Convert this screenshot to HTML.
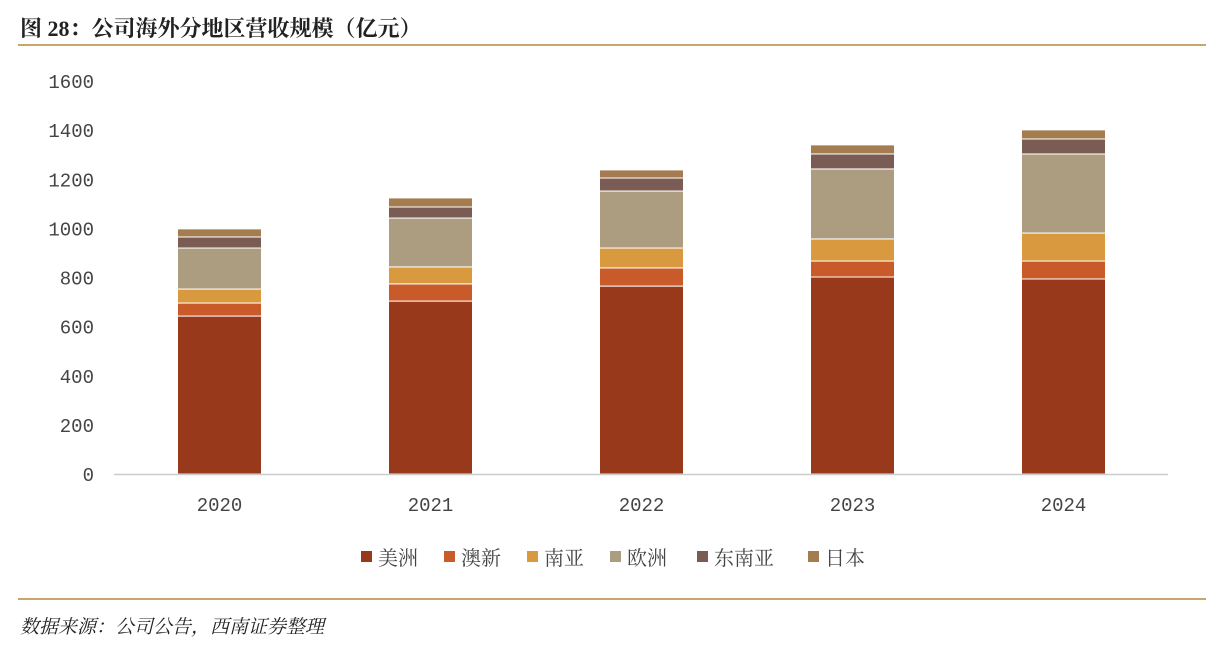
<!DOCTYPE html>
<html><head><meta charset="utf-8"><style>
body{margin:0;background:#fff;width:1225px;height:663px;overflow:hidden;font-family:"Liberation Sans","Noto Sans CJK SC",sans-serif;}
.title{position:absolute;left:20px;top:12px;font-size:22px;font-weight:bold;color:#222;font-family:"Liberation Serif","Noto Serif CJK SC",serif;}
.rule{position:absolute;left:18px;width:1188px;height:2px;background:#c9a46b;}
.src{position:absolute;left:20px;top:612px;font-size:19px;font-style:italic;color:#222;font-family:"Liberation Serif","Noto Serif CJK SC",serif;}
</style></head><body>
<div class="title">图 28：公司海外分地区营收规模（亿元）</div>
<div class="rule" style="top:44px"></div>
<div class="rule" style="top:598px"></div>
<div class="src">数据来源：公司公告，西南证券整理</div>
<svg id="c" width="1225" height="663" style="position:absolute;left:0;top:0"></svg>
<script>
const years=["2020","2021","2022","2023","2024"];
const names=["美洲","澳新","南亚","欧洲","东南亚","日本"];
const america=[643,704,765,802,794];
const anz=[53,70,74,65,73];
const southAsia=[57,69,81,90,114];
const europe=[167,199,232,285,322];
const seAsia=[45,45,53,61,61];
const japan=[33,37,33,37,37];
const ticks=[0,200,400,600,800,1000,1200,1400,1600];
const series=[america,anz,southAsia,europe,seAsia,japan];
const colors=["#98391c","#c95a2a","#d9993f","#ad9d80","#7a5c54","#a47c50"];
const svg=document.getElementById('c');const NS="http://www.w3.org/2000/svg";
const y0=474,yTop=81,ymax=1600;
const y=v=>y0-(v/ymax)*(y0-yTop);
const x=i=>219.5+i*211;
function mk(t,a){const e=document.createElementNS(NS,t);for(const k in a)e.setAttribute(k,a[k]);svg.appendChild(e);return e;}
ticks.forEach(t=>{const e=mk('text',{x:94,y:y(t)+7,'text-anchor':'end','font-size':19,fill:'#444','font-family':'Liberation Mono, monospace'});e.textContent=t;

});
years.forEach((yr,i)=>{let acc=0;series.forEach((s,j)=>{const v=s[i];const r=mk('rect',{x:x(i)-42,y:y(acc+v),width:84,height:y(acc)-y(acc+v),fill:colors[j],stroke:'#fff','stroke-width':1});

acc+=v;});
const t=mk('text',{x:x(i),y:511,'text-anchor':'middle','font-size':19,fill:'#444','font-family':'Liberation Mono, monospace'});t.textContent=yr;

});
const ax=mk('line',{x1:114,x2:1168,y1:y0+0.5,y2:y0+0.5,stroke:'#ccc','stroke-width':1.5});


const lx=[361,444,527,610,697,808];
names.forEach((n,j)=>{const g=mk('g',{});


const r=document.createElementNS(NS,'rect');r.setAttribute('x',lx[j]);r.setAttribute('y',551);r.setAttribute('width',11);r.setAttribute('height',11);r.setAttribute('fill',colors[j]);g.appendChild(r);
const t=document.createElementNS(NS,'text');t.setAttribute('x',lx[j]+17);t.setAttribute('y',565);t.setAttribute('font-size',20);t.setAttribute('fill','#444');t.setAttribute('font-family','"Noto Serif CJK SC", serif');t.textContent=n;g.appendChild(t);});
</script>
</body></html>
